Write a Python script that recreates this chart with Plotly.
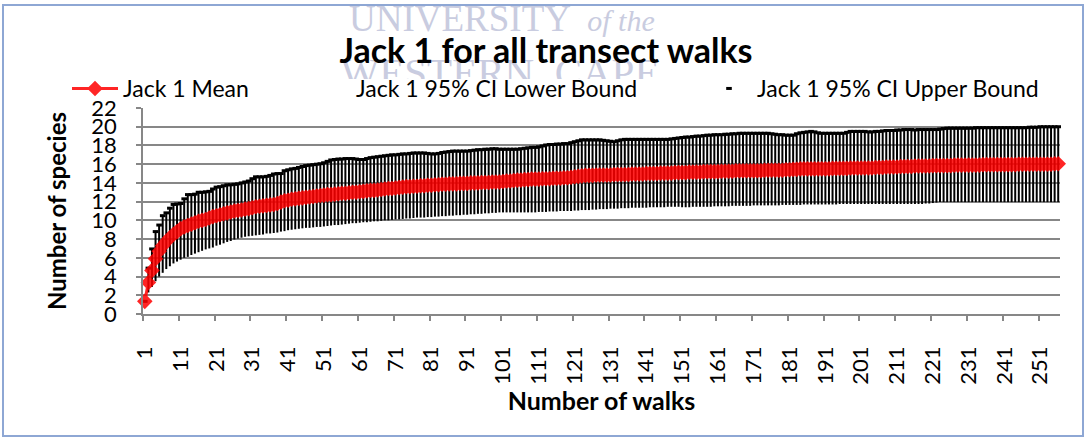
import plotly.graph_objects as go

# Walk index (x categories 1..256)
walks = list(range(1, 257))

# Jack 1 mean species estimate per number of walks
jack1_mean = [
    1.35, 3.37, 4.65, 5.9, 6.7, 7.3, 7.75, 8.15, 8.5, 8.8,
    9.1, 9.3, 9.45, 9.6, 9.75, 9.9, 10.0, 10.1, 10.25, 10.4,
    10.5, 10.6, 10.7, 10.8, 10.9, 11.0, 11.05, 11.1, 11.2, 11.25,
    11.35, 11.45, 11.5, 11.55, 11.6, 11.65, 11.7, 11.8, 11.95, 12.1,
    12.15, 12.25, 12.3, 12.35, 12.4, 12.45, 12.5, 12.55, 12.6, 12.65,
    12.7, 12.75, 12.75, 12.8, 12.85, 12.9, 12.9, 12.95, 13.0, 13.0,
    13.05, 13.1, 13.15, 13.2, 13.2, 13.25, 13.3, 13.35, 13.4, 13.4,
    13.45, 13.5, 13.55, 13.6, 13.6, 13.65, 13.65, 13.7, 13.7, 13.75,
    13.75, 13.8, 13.8, 13.85, 13.85, 13.9, 13.9, 13.9, 13.95, 13.95,
    13.95, 14.0, 14.0, 14.0, 14.05, 14.05, 14.05, 14.1, 14.1, 14.1,
    14.15, 14.2, 14.2, 14.25, 14.3, 14.3, 14.35, 14.35, 14.4, 14.4,
    14.4, 14.45, 14.45, 14.45, 14.5, 14.5, 14.5, 14.55, 14.55, 14.6,
    14.65, 14.7, 14.75, 14.8, 14.8, 14.8, 14.85, 14.85, 14.85, 14.85,
    14.85, 14.9, 14.9, 14.9, 14.9, 14.9, 14.95, 14.95, 14.95, 14.95,
    15.0, 15.0, 15.0, 15.0, 15.05, 15.05, 15.05, 15.05, 15.1, 15.1,
    15.1, 15.1, 15.15, 15.15, 15.15, 15.15, 15.2, 15.2, 15.2, 15.2,
    15.2, 15.25, 15.25, 15.25, 15.25, 15.3, 15.3, 15.3, 15.3, 15.3,
    15.3, 15.3, 15.3, 15.35, 15.35, 15.35, 15.35, 15.35, 15.35, 15.4,
    15.4, 15.45, 15.45, 15.5, 15.5, 15.5, 15.5, 15.5, 15.5, 15.5,
    15.5, 15.5, 15.55, 15.55, 15.55, 15.55, 15.55, 15.6, 15.6, 15.6,
    15.6, 15.6, 15.6, 15.6, 15.65, 15.65, 15.65, 15.7, 15.7, 15.7,
    15.7, 15.75, 15.75, 15.75, 15.75, 15.8, 15.8, 15.8, 15.8, 15.8,
    15.85, 15.85, 15.85, 15.85, 15.85, 15.85, 15.9, 15.9, 15.9, 15.9,
    15.9, 15.9, 15.9, 15.9, 15.95, 15.95, 15.95, 15.95, 15.95, 15.95,
    15.95, 15.95, 15.95, 15.95, 16.0, 16.0, 16.0, 16.0, 16.0, 16.0,
    16.0, 16.0, 16.0, 16.0, 16.05, 16.05,
]

# 95% confidence interval, lower bound
ci_lower = [
    1.35, 2.3, 2.9, 3.5, 4.0, 4.4, 4.8, 5.1, 5.4, 5.6,
    5.8, 6.0, 6.1, 6.3, 6.45, 6.6, 6.75, 6.9, 7.0, 7.1,
    7.3, 7.4, 7.55, 7.7, 7.8, 7.95, 8.05, 8.15, 8.25, 8.3,
    8.35, 8.4, 8.45, 8.5, 8.6, 8.6, 8.65, 8.7, 8.8, 8.85,
    8.95, 9.0, 9.05, 9.1, 9.15, 9.2, 9.2, 9.25, 9.3, 9.3,
    9.35, 9.4, 9.45, 9.5, 9.5, 9.55, 9.6, 9.65, 9.7, 9.7,
    9.75, 9.8, 9.8, 9.85, 9.9, 9.9, 9.95, 10.0, 10.0, 10.05,
    10.1, 10.1, 10.15, 10.2, 10.2, 10.25, 10.3, 10.3, 10.3, 10.35,
    10.35, 10.4, 10.4, 10.45, 10.45, 10.5, 10.5, 10.55, 10.55, 10.6,
    10.6, 10.65, 10.65, 10.7, 10.7, 10.75, 10.75, 10.8, 10.8, 10.85,
    10.85, 10.85, 10.85, 10.85, 10.85, 10.85, 10.85, 10.85, 10.85, 10.85,
    10.9, 10.9, 10.9, 10.95, 10.95, 10.95, 11.0, 11.0, 11.0, 11.0,
    11.05, 11.05, 11.1, 11.1, 11.1, 11.15, 11.15, 11.2, 11.2, 11.2,
    11.25, 11.25, 11.25, 11.3, 11.3, 11.3, 11.35, 11.35, 11.35, 11.35,
    11.35, 11.4, 11.4, 11.4, 11.4, 11.4, 11.45, 11.45, 11.45, 11.45,
    11.4, 11.4, 11.4, 11.45, 11.45, 11.45, 11.45, 11.45, 11.45, 11.5,
    11.5, 11.5, 11.5, 11.5, 11.55, 11.55, 11.55, 11.55, 11.55, 11.55,
    11.6, 11.6, 11.6, 11.6, 11.6, 11.6, 11.6, 11.6, 11.65, 11.65,
    11.65, 11.65, 11.65, 11.65, 11.7, 11.7, 11.7, 11.7, 11.7, 11.7,
    11.7, 11.7, 11.7, 11.7, 11.75, 11.75, 11.75, 11.75, 11.75, 11.75,
    11.75, 11.75, 11.75, 11.75, 11.75, 11.75, 11.75, 11.75, 11.75, 11.75,
    11.75, 11.75, 11.75, 11.75, 11.75, 11.75, 11.75, 11.75, 11.8, 11.8,
    11.85, 11.9, 11.95, 11.95, 11.95, 11.95, 11.95, 11.95, 11.95, 11.95,
    11.95, 11.95, 11.95, 11.95, 11.95, 11.95, 11.95, 11.95, 11.95, 11.95,
    11.95, 11.95, 11.95, 11.95, 11.95, 11.95, 11.95, 11.95, 11.95, 11.95,
    11.95, 11.95, 11.95, 11.95, 11.95, 11.95,
]

# 95% confidence interval, upper bound
ci_upper = [
    1.35, 4.9, 6.95, 8.8, 9.5, 10.5, 10.8, 11.3, 11.7, 11.75,
    11.8, 12.3, 12.75, 12.75, 12.8, 13.0, 13.0, 13.05, 13.1, 13.35,
    13.55, 13.6, 13.7, 13.8, 13.8, 13.85, 13.9, 14.0, 14.1, 14.2,
    14.45, 14.65, 14.65, 14.65, 14.7, 14.8, 14.95, 15.0, 15.0, 15.3,
    15.4, 15.5, 15.55, 15.65, 15.75, 15.85, 15.9, 15.95, 16.0, 16.05,
    16.15, 16.3, 16.45, 16.5, 16.55, 16.55, 16.6, 16.6, 16.6, 16.55,
    16.5, 16.5, 16.6, 16.7, 16.75, 16.8, 16.85, 16.9, 16.95, 17.0,
    17.0, 17.05, 17.1, 17.1, 17.15, 17.2, 17.2, 17.2, 17.2, 17.15,
    17.1, 17.1, 17.15, 17.25, 17.3, 17.35, 17.4, 17.4, 17.4, 17.4,
    17.4, 17.45, 17.5, 17.55, 17.55, 17.6, 17.6, 17.65, 17.65, 17.6,
    17.6, 17.6, 17.6, 17.6, 17.6, 17.65, 17.7, 17.75, 17.8, 17.8,
    17.85, 17.95, 18.05, 18.1, 18.1, 18.15, 18.15, 18.2, 18.2, 18.3,
    18.4, 18.5, 18.6, 18.6, 18.6, 18.6, 18.6, 18.6, 18.55, 18.5,
    18.45, 18.4, 18.5, 18.6, 18.65, 18.65, 18.65, 18.65, 18.65, 18.65,
    18.65, 18.65, 18.65, 18.65, 18.65, 18.65, 18.65, 18.7, 18.75, 18.8,
    18.85, 18.9, 18.9, 18.95, 19.0, 19.0, 19.05, 19.1, 19.1, 19.15,
    19.15, 19.15, 19.2, 19.2, 19.25, 19.25, 19.3, 19.3, 19.3, 19.3,
    19.3, 19.3, 19.3, 19.3, 19.3, 19.25, 19.2, 19.15, 19.15, 19.1,
    19.1, 19.1, 19.25, 19.35, 19.4, 19.45, 19.5, 19.45, 19.35, 19.3,
    19.3, 19.3, 19.3, 19.3, 19.3, 19.3, 19.4, 19.5, 19.5, 19.5,
    19.5, 19.5, 19.45, 19.45, 19.5, 19.5, 19.55, 19.6, 19.6, 19.6,
    19.65, 19.65, 19.7, 19.7, 19.7, 19.65, 19.7, 19.7, 19.7, 19.7,
    19.7, 19.7, 19.75, 19.8, 19.85, 19.85, 19.85, 19.85, 19.85, 19.85,
    19.85, 19.85, 19.9, 19.9, 19.9, 19.9, 19.9, 19.9, 19.9, 19.9,
    19.9, 19.9, 19.9, 19.9, 19.9, 19.9, 19.9, 19.95, 19.95, 19.95,
    20.0, 20.0, 20.0, 20.0, 20.0, 20.0,
]

# Axis ticks
x_tick_walks = list(range(1, 257, 10))
x_tick_labels = [str(v) for v in x_tick_walks]
y_ticks = list(range(0, 23, 2))

# Background watermark lines
watermark_text = ["UNIVERSITY", "<i>of the</i>", "WESTERN  CAPE"]

FONT = "Lato"
GRID = "#878787"

# Page geometry (px)
W, H = 1086, 438
ML, MR, MB = 143, 26, 124
PLOT_TOP = 108          # top edge of the data axes
BAND_BOTTOM = 79        # watermark strip runs from the page top down to here
PAPER_H = H - MB        # paper area spans page rows 0 .. PAPER_H


def py_paper(py):
    return (PAPER_H - py) / PAPER_H


def px_paper(px):
    return (px - ML) / (W - ML - MR)


ci_span = [u - lo for u, lo in zip(ci_upper, ci_lower)]

fig = go.Figure()

# Watermark in its own hidden strip above the chart (clipped at the strip edge)
fig.add_trace(go.Scatter(
    x=[460, 621, 500], y=[22, 23, 76],
    xaxis="x2", yaxis="y2",
    mode="text", text=watermark_text,
    textposition="middle center",
    textfont=dict(family="Liberation Serif", size=[37, 30, 41], color="#c9cce0"),
    showlegend=False, hoverinfo="skip",
))

# Lower bound: carried as a series (no visible mark of its own)
fig.add_trace(go.Scatter(
    x=walks, y=ci_lower, mode="lines",
    line=dict(width=0, color="rgba(0,0,0,0)"),
    name="Jack 1 95% CI Lower Bound", legend="legend2",
))

# Upper bound: dash markers with high-low lines down to the lower bound
fig.add_trace(go.Scatter(
    x=walks, y=ci_upper, mode="markers",
    marker=dict(symbol="line-ew", size=4, color="black",
                line=dict(width=3, color="black")),
    error_y=dict(type="data", symmetric=False,
                 array=[0] * len(walks), arrayminus=ci_span,
                 color="black", thickness=2, width=0),
    cliponaxis=False,
    name="Jack 1 95% CI Upper Bound", legend="legend3",
))

# Mean estimate
fig.add_trace(go.Scatter(
    x=walks, y=jack1_mean, mode="lines+markers",
    line=dict(color="#FF0000", width=3),
    marker=dict(symbol="diamond", size=12, color="#FF0000"),
    opacity=0.85, cliponaxis=False,
    name="Jack 1 Mean", legend="legend",
))

# Outer chart frame
fig.add_shape(
    type="rect", xref="paper", yref="paper",
    x0=px_paper(3), x1=px_paper(1083), y0=py_paper(436), y1=py_paper(5),
    line=dict(color="#8ea7d4", width=2), layer="below",
)


def legend_box(left_px):
    return dict(
        orientation="h", xref="container", yref="container",
        x=left_px / W, xanchor="left", y=1 - 67 / H, yanchor="top",
        itemwidth=46, font=dict(family=FONT, size=23, color="black"),
        bgcolor="rgba(0,0,0,0)", borderwidth=0,
    )


fig.update_layout(
    width=W, height=H,
    margin=dict(l=ML, r=MR, t=0, b=MB, autoexpand=False),
    paper_bgcolor="white", plot_bgcolor="white",
    font=dict(family=FONT, color="black"),
    showlegend=True,
    title=dict(
        text="<b>Jack 1 for all transect walks</b>",
        font=dict(family=FONT, size=34, color="black"),
        x=546 / W, xanchor="center", xref="container",
        y=1 - 51 / H, yanchor="middle", yref="container",
    ),
    legend=legend_box(67),
    legend2=legend_box(300),
    legend3=legend_box(701),
    xaxis=dict(
        range=[0.5, 256.5], tickmode="array",
        tickvals=x_tick_walks, ticktext=x_tick_labels, tickangle=-90,
        ticks="outside", ticklen=5, tickcolor="rgba(0,0,0,0)",
        ticklabelstandoff=17,
        minor=dict(tickmode="linear", tick0=0.5, dtick=10, ticks="outside",
                   ticklen=5, tickwidth=1.5, tickcolor=GRID, showgrid=False),
        showgrid=False, zeroline=False,
        showline=True, linecolor=GRID, linewidth=1.5,
        tickfont=dict(family=FONT, size=22, color="black"),
        title=dict(text="<b>Number of walks</b>",
                   font=dict(family=FONT, size=25, color="black"), standoff=9),
        automargin=False,
    ),
    yaxis=dict(
        domain=[0, py_paper(PLOT_TOP)],
        range=[0, 22], tickmode="array", tickvals=y_ticks,
        ticks="outside", ticklen=5, tickwidth=1.5, tickcolor=GRID,
        ticklabelstandoff=15,
        showgrid=True, gridcolor=GRID, gridwidth=1.5,
        zeroline=False, showline=True, linecolor=GRID, linewidth=1.5,
        tickfont=dict(family=FONT, size=22, color="black"),
        title=dict(text="<b>Number of species</b>",
                   font=dict(family=FONT, size=24, color="black"), standoff=18),
        automargin=False,
    ),
    # Hidden strip for the watermark, in page pixel units
    xaxis2=dict(anchor="y2", range=[ML, W - MR], visible=False, fixedrange=True),
    yaxis2=dict(anchor="x2", domain=[py_paper(BAND_BOTTOM), 1],
                range=[BAND_BOTTOM, 0], visible=False, fixedrange=True),
)

fig.write_html("out.html")
